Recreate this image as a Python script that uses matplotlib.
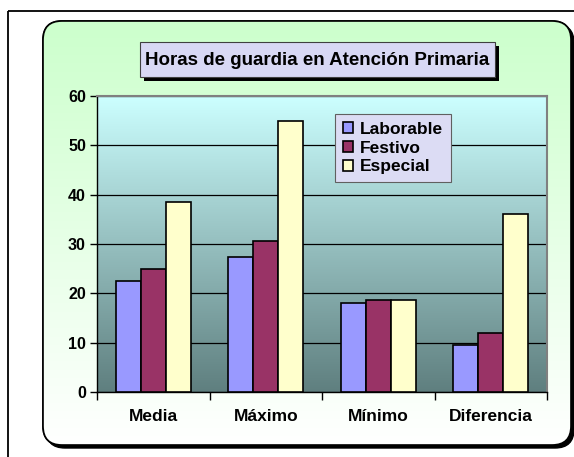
import matplotlib
matplotlib.use("Agg")
import matplotlib.pyplot as plt
import numpy as np
from matplotlib.patches import FancyBboxPatch, Rectangle
from matplotlib.colors import LinearSegmentedColormap

plt.rcParams['font.family'] = ['Liberation Sans', 'DejaVu Sans']
plt.rcParams['font.weight'] = 'bold'

# datos
categorias = ["Media", "Máximo", "Mínimo", "Diferencia"]
series = ["Laborable", "Festivo", "Especial"]
laborable = [22.6, 27.4, 18.0, 9.5]
festivo = [24.9, 30.6, 18.7, 11.9]
especial = [38.5, 55.0, 18.7, 36.0]
colores = ["#9999FF", "#993366", "#FFFFCC"]
titulo = "Horas de guardia en Atención Primaria"
y_ticks = [0, 10, 20, 30, 40, 50, 60]

W, H = 574, 457
fig = plt.figure(figsize=(W / 100, H / 100), dpi=100)
fig.patch.set_facecolor("white")

# capa de fondo en pixeles
bg = fig.add_axes([0, 0, 1, 1])
bg.set_xlim(0, W)
bg.set_ylim(H, 0)
bg.axis("off")

# marco exterior
bg.add_patch(Rectangle((8, 11), W, H, fill=False, edgecolor="black", lw=1.3))

# panel redondeado verde con sombra
px, py, pw, ph = 43, 21, 528, 424
estilo = "round,pad=0,rounding_size=19"
bg.add_patch(FancyBboxPatch((px + 3, py + 3), pw, ph, boxstyle=estilo,
                            facecolor="black", edgecolor="black", lw=1))
panel = FancyBboxPatch((px, py), pw, ph, boxstyle=estilo,
                       facecolor="white", edgecolor="black", lw=1.2)
bg.add_patch(panel)
verde = LinearSegmentedColormap.from_list("verde", ["#CCFFCC", "#FFFFFF"])
grad = np.linspace(0, 1, 256).reshape(-1, 1)
img = bg.imshow(grad, cmap=verde, extent=(px, px + pw, py + ph, py), aspect="auto", zorder=2)
img.set_clip_path(panel)
bg.add_patch(FancyBboxPatch((px, py), pw, ph, boxstyle=estilo,
                            fill=False, edgecolor="black", lw=1.2, zorder=3))

# caja del titulo
tx, ty, tw, th = 140, 42, 355, 35
bg.add_patch(Rectangle((tx + 4, ty + 4), tw, th, facecolor="black", zorder=4))
bg.add_patch(Rectangle((tx, ty), tw, th, facecolor="#D8D8F4", edgecolor="#404040", lw=0.8, zorder=5))
bg.text(tx + tw / 2, ty + th / 2 + 1, titulo, ha="center", va="center",
        fontsize=13.5, fontweight="bold", zorder=6)

# area del grafico
x0, x1, y0, y1 = 97, 547, 96, 392
ax = fig.add_axes([x0 / W, 1 - y1 / H, (x1 - x0) / W, (y1 - y0) / H])
ax.set_facecolor("none")
azul = LinearSegmentedColormap.from_list("azul", ["#CCFFFF", "#5F7F7F"])
ax.imshow(grad, cmap=azul, extent=(-0.5, 3.5, 0, 60), aspect="auto", zorder=0)

x = np.arange(len(categorias))
ancho = 0.222
for i, (nombre, valores) in enumerate(zip(series, [laborable, festivo, especial])):
    ax.bar(x + (i - 1) * ancho, valores, ancho, color=colores[i], edgecolor="black",
           lw=1.2, label=nombre, zorder=3)

ax.set_xlim(-0.5, 3.5)
ax.set_ylim(0, 60)
ax.set_yticks(y_ticks)
ax.yaxis.grid(True, color="black", lw=0.9, zorder=1)
ax.set_axisbelow(True)
ax.set_xticks(np.arange(-0.5, 4, 1))
ax.set_xticklabels([])
ax.set_xticks(x, minor=True)
ax.set_xticklabels(categorias, minor=True, fontsize=12.5, fontweight="bold")
ax.tick_params(axis="x", which="minor", length=0, pad=12)
ax.tick_params(axis="x", which="major", length=6, width=1, direction="out")
ax.tick_params(axis="y", length=5, width=1, direction="out", labelsize=11.5, pad=3)
for lab in ax.get_yticklabels():
    lab.set_fontweight("bold")
for lado in ["top", "right"]:
    ax.spines[lado].set_color("#808080")
    ax.spines[lado].set_linewidth(1.5)
for lado in ["left", "bottom"]:
    ax.spines[lado].set_color("black")
    ax.spines[lado].set_linewidth(1)

leg = fig.legend(loc="upper left", bbox_to_anchor=(335 / W, 1 - 114 / H), borderaxespad=0,
                 facecolor="#DCDCF4", edgecolor="#606060", framealpha=1, fancybox=False,
                 prop={"weight": "bold", "size": 12.5}, handlelength=0.6, handleheight=0.6,
                 handletextpad=0.4, labelspacing=0.22, borderpad=0.45)
leg.get_frame().set_linewidth(0.8)

fig.savefig("out.png", dpi=100)
